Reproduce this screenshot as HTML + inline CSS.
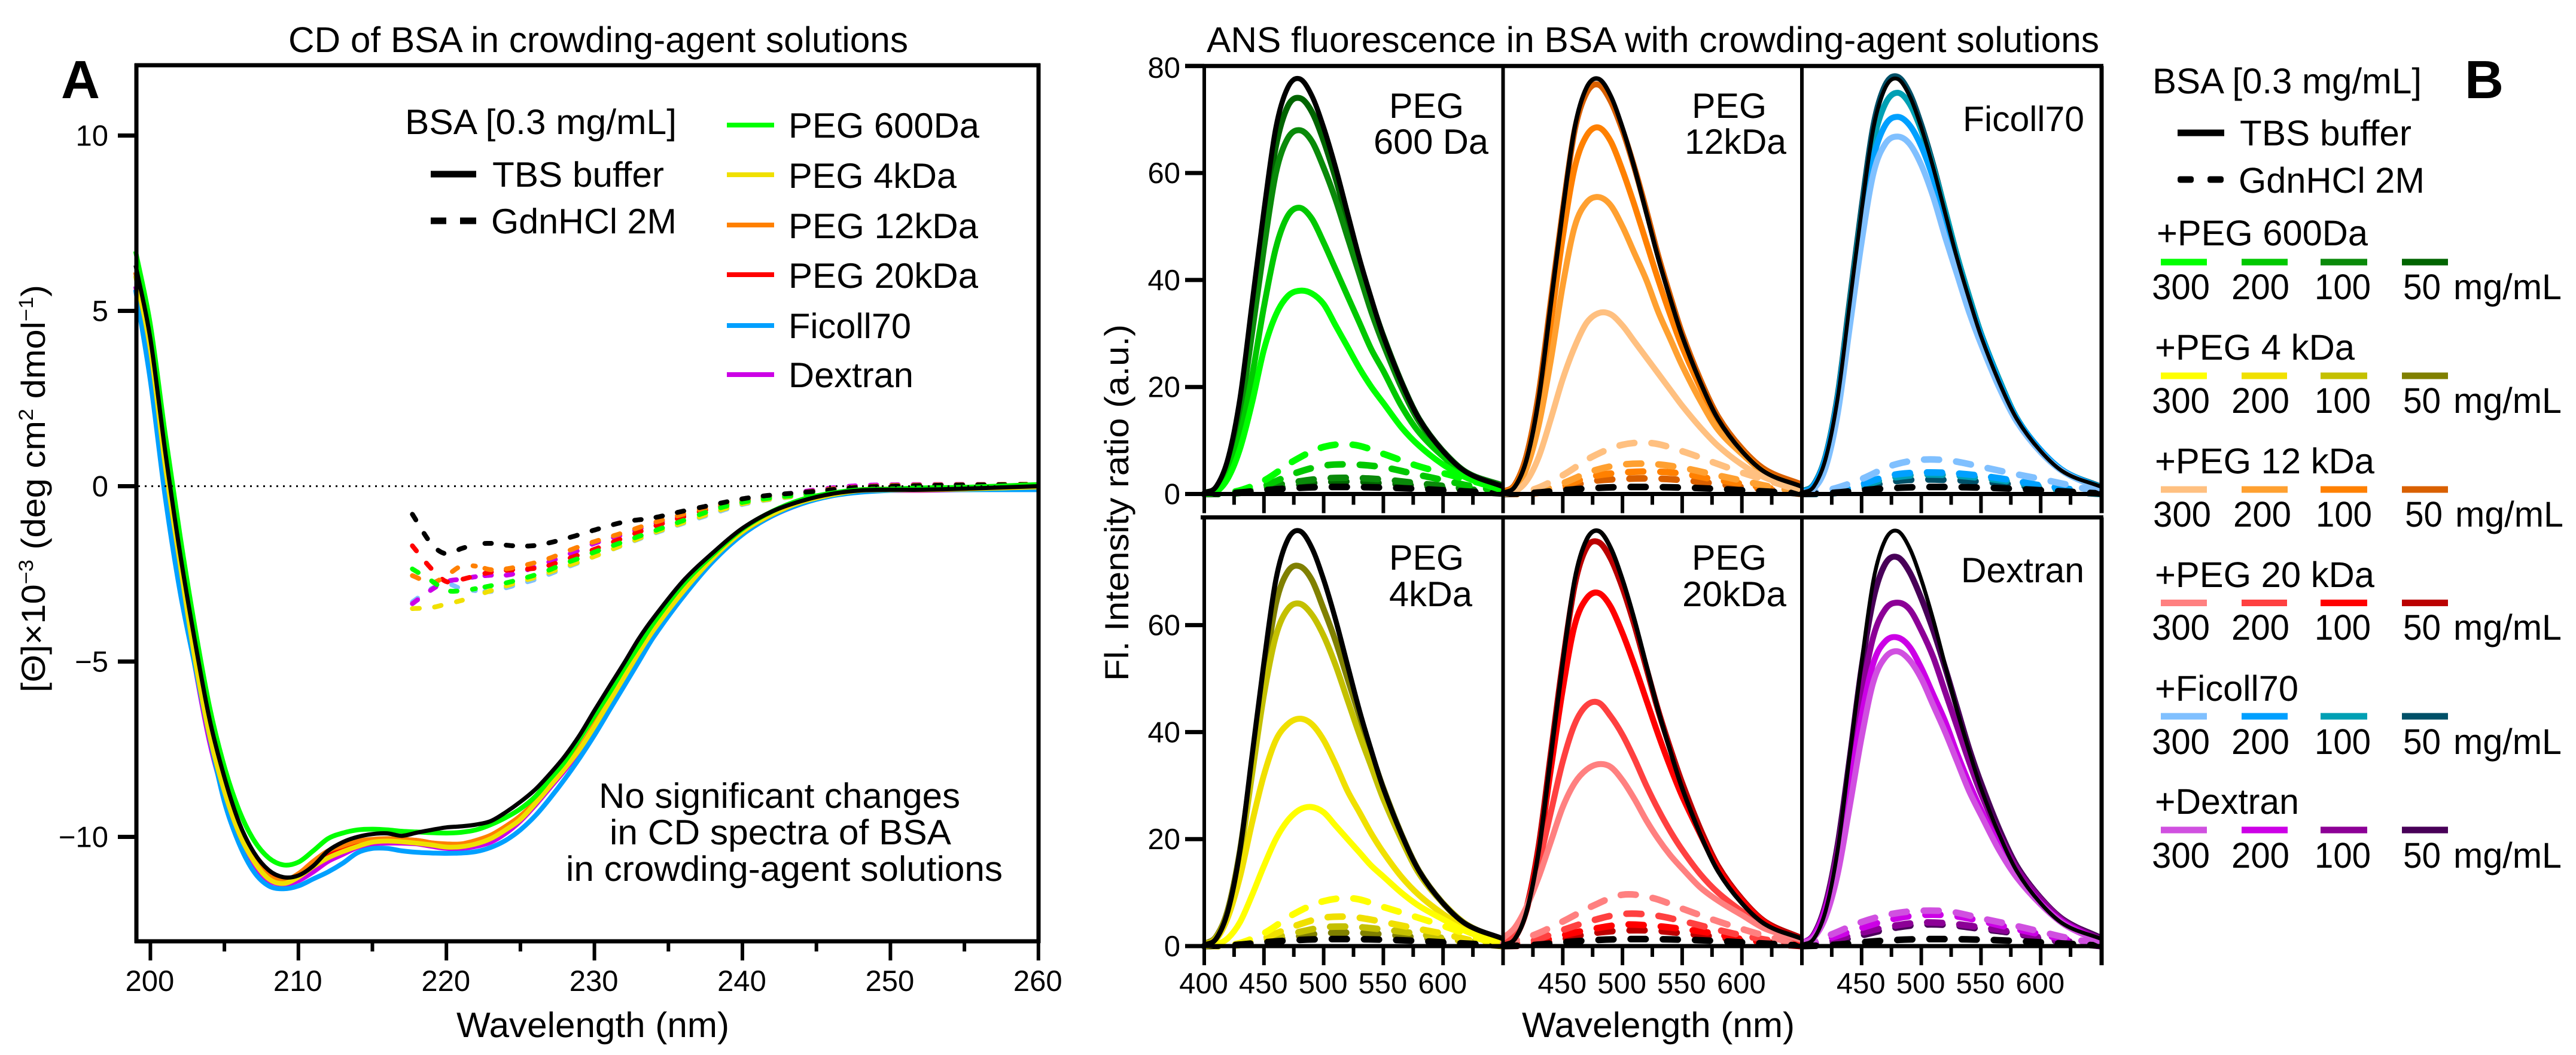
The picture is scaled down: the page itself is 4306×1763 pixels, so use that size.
<!DOCTYPE html>
<html lang="en">
<head>
<meta charset="utf-8">
<title>CD and ANS fluorescence of BSA in crowding-agent solutions</title>
<style>
html,body{margin:0;padding:0;background:#fff;}
svg{display:block;}
text{font-family:"Liberation Sans",Arial,sans-serif;fill:#000;text-rendering:geometricPrecision;}
</style>
</head>
<body>
<svg id="fig" xmlns="http://www.w3.org/2000/svg" width="4306" height="1763" viewBox="0 0 4306 1763">
<rect x="0" y="0" width="4306" height="1763" fill="#fff"/>
<g id="cd-curves"></g>
<g id="cd-axes"></g>
<g id="fluo-curves"></g>
<g id="fluo-axes"></g>

<text x="482" y="87" font-size="60" textLength="1036" lengthAdjust="spacingAndGlyphs">CD of BSA in crowding-agent solutions</text>
<text x="2017" y="87" font-size="60" textLength="1492" lengthAdjust="spacingAndGlyphs">ANS fluorescence in BSA with crowding-agent solutions</text>
<text x="102" y="164" font-size="90" font-weight="bold">A</text>
<text x="4120" y="164" font-size="90" font-weight="bold">B</text>

<text x="763" y="1733" font-size="59" textLength="456" lengthAdjust="spacingAndGlyphs">Wavelength (nm)</text>
<text x="2544" y="1733" font-size="59" textLength="456" lengthAdjust="spacingAndGlyphs">Wavelength (nm)</text>
<text transform="translate(75,1157) rotate(-90)" font-size="56" textLength="681" lengthAdjust="spacingAndGlyphs">[Θ]×10<tspan dy="-20" font-size="34">−3</tspan><tspan dy="20"> (deg cm</tspan><tspan dy="-20" font-size="34">2</tspan><tspan dy="20"> dmol</tspan><tspan dy="-20" font-size="34">−1</tspan><tspan dy="20">)</tspan></text>
<text transform="translate(1886,1138) rotate(-90)" font-size="56" textLength="596" lengthAdjust="spacingAndGlyphs">Fl. Intensity ratio (a.u.)</text>

<!-- CD legend -->
<text x="677" y="224" font-size="59" textLength="454" lengthAdjust="spacingAndGlyphs">BSA [0.3 mg/mL]</text>
<rect x="720" y="285.500" width="76" height="11" fill="#000"/>
<text x="823" y="312" font-size="59" textLength="287" lengthAdjust="spacingAndGlyphs">TBS buffer</text>
<rect x="720" y="363.500" width="26" height="11" fill="#000"/>
<rect x="769" y="363.500" width="27" height="11" fill="#000"/>
<text x="821" y="390" font-size="59" textLength="310" lengthAdjust="spacingAndGlyphs">GdnHCl 2M</text>

<rect x="1215" y="205" width="79" height="8" fill="#00ff00"/>
<text x="1318" y="230" font-size="59" textLength="319" lengthAdjust="spacingAndGlyphs">PEG 600Da</text>
<rect x="1215" y="288" width="79" height="8" fill="#f0e000"/>
<text x="1318" y="314" font-size="59" textLength="281" lengthAdjust="spacingAndGlyphs">PEG 4kDa</text>
<rect x="1215" y="372" width="79" height="8" fill="#ff8000"/>
<text x="1318" y="398" font-size="59" textLength="317" lengthAdjust="spacingAndGlyphs">PEG 12kDa</text>
<rect x="1215" y="455" width="79" height="8" fill="#ff0000"/>
<text x="1318" y="481" font-size="59" textLength="317" lengthAdjust="spacingAndGlyphs">PEG 20kDa</text>
<rect x="1215" y="540" width="79" height="8" fill="#00a0ff"/>
<text x="1318" y="565" font-size="59" textLength="205" lengthAdjust="spacingAndGlyphs">Ficoll70</text>
<rect x="1215" y="622" width="79" height="8" fill="#cc00e6"/>
<text x="1318" y="647" font-size="59" textLength="209" lengthAdjust="spacingAndGlyphs">Dextran</text>

<text x="1001" y="1350" font-size="59" textLength="604" lengthAdjust="spacingAndGlyphs">No significant changes</text>
<text x="1019" y="1411" font-size="59" textLength="571" lengthAdjust="spacingAndGlyphs">in CD spectra of BSA</text>
<text x="946" y="1472" font-size="59" textLength="730" lengthAdjust="spacingAndGlyphs">in crowding-agent solutions</text>

<!-- Fluorescence panel captions -->
<text x="2322" y="197" font-size="59" textLength="125" lengthAdjust="spacingAndGlyphs">PEG</text>
<text x="2296" y="257" font-size="59" textLength="192" lengthAdjust="spacingAndGlyphs">600 Da</text>
<text x="2828" y="197" font-size="59" textLength="125" lengthAdjust="spacingAndGlyphs">PEG</text>
<text x="2816" y="257" font-size="59" textLength="170" lengthAdjust="spacingAndGlyphs">12kDa</text>
<text x="3281" y="219" font-size="59" textLength="203" lengthAdjust="spacingAndGlyphs">Ficoll70</text>
<text x="2322" y="952" font-size="59" textLength="125" lengthAdjust="spacingAndGlyphs">PEG</text>
<text x="2322" y="1013" font-size="59" textLength="139" lengthAdjust="spacingAndGlyphs">4kDa</text>
<text x="2828" y="952" font-size="59" textLength="125" lengthAdjust="spacingAndGlyphs">PEG</text>
<text x="2812" y="1013" font-size="59" textLength="174" lengthAdjust="spacingAndGlyphs">20kDa</text>
<text x="3278" y="973" font-size="59" textLength="206" lengthAdjust="spacingAndGlyphs">Dextran</text>

<!-- Panel B legend -->
<text x="3598" y="156" font-size="60" textLength="450" lengthAdjust="spacingAndGlyphs">BSA [0.3 mg/mL]</text>
<rect x="3640" y="216.500" width="78" height="11" fill="#000"/>
<text x="3744" y="243" font-size="60" textLength="287" lengthAdjust="spacingAndGlyphs">TBS buffer</text>
<rect x="3640" y="294.500" width="27" height="11" rx="4" fill="#000"/>
<rect x="3690" y="294.500" width="27" height="11" rx="4" fill="#000"/>
<text x="3742" y="322" font-size="60" textLength="311" lengthAdjust="spacingAndGlyphs">GdnHCl 2M</text>

<g>
<text x="3605" y="410" font-size="60" textLength="353" lengthAdjust="spacingAndGlyphs">+PEG 600Da</text>
<rect x="3612" y="432.500" width="77" height="11" fill="#00ff00"/>
<rect x="3747" y="432.500" width="77" height="11" fill="#00c800"/>
<rect x="3879" y="432.500" width="78" height="11" fill="#0a8a0a"/>
<rect x="4015" y="432.500" width="77" height="11" fill="#006400"/>
<text x="3597" y="500" font-size="60" textLength="97" lengthAdjust="spacingAndGlyphs">300</text>
<text x="3730" y="500" font-size="60" textLength="97" lengthAdjust="spacingAndGlyphs">200</text>
<text x="3869" y="500" font-size="60" textLength="94" lengthAdjust="spacingAndGlyphs">100</text>
<text x="4017" y="500" font-size="60" textLength="63" lengthAdjust="spacingAndGlyphs">50</text>
<text x="4101" y="500" font-size="60" textLength="181" lengthAdjust="spacingAndGlyphs">mg/mL</text>
</g>
<g>
<text x="3602" y="601" font-size="60" textLength="334" lengthAdjust="spacingAndGlyphs">+PEG 4 kDa</text>
<rect x="3612" y="622.500" width="77" height="11" fill="#ffff00"/>
<rect x="3747" y="622.500" width="76" height="11" fill="#f0e000"/>
<rect x="3879" y="622.500" width="78" height="11" fill="#c4c000"/>
<rect x="4015" y="622.500" width="77" height="11" fill="#808000"/>
<text x="3597" y="690" font-size="60" textLength="97" lengthAdjust="spacingAndGlyphs">300</text>
<text x="3730" y="690" font-size="60" textLength="97" lengthAdjust="spacingAndGlyphs">200</text>
<text x="3869" y="690" font-size="60" textLength="94" lengthAdjust="spacingAndGlyphs">100</text>
<text x="4017" y="690" font-size="60" textLength="63" lengthAdjust="spacingAndGlyphs">50</text>
<text x="4101" y="690" font-size="60" textLength="181" lengthAdjust="spacingAndGlyphs">mg/mL</text>
</g>
<g>
<text x="3602" y="791" font-size="60" textLength="367" lengthAdjust="spacingAndGlyphs">+PEG 12 kDa</text>
<rect x="3612" y="812.500" width="77" height="11" fill="#ffc080"/>
<rect x="3747" y="812.500" width="77" height="11" fill="#ffa030"/>
<rect x="3879" y="812.500" width="78" height="11" fill="#ff8000"/>
<rect x="4015" y="812.500" width="77" height="11" fill="#d96000"/>
<text x="3599" y="880" font-size="60" textLength="97" lengthAdjust="spacingAndGlyphs">300</text>
<text x="3733" y="880" font-size="60" textLength="97" lengthAdjust="spacingAndGlyphs">200</text>
<text x="3871" y="880" font-size="60" textLength="94" lengthAdjust="spacingAndGlyphs">100</text>
<text x="4020" y="880" font-size="60" textLength="63" lengthAdjust="spacingAndGlyphs">50</text>
<text x="4104" y="880" font-size="60" textLength="181" lengthAdjust="spacingAndGlyphs">mg/mL</text>
</g>
<g>
<text x="3602" y="981" font-size="60" textLength="367" lengthAdjust="spacingAndGlyphs">+PEG 20 kDa</text>
<rect x="3612" y="1002" width="77" height="11" fill="#ff8080"/>
<rect x="3747" y="1002" width="76" height="11" fill="#ff4040"/>
<rect x="3879" y="1002" width="78" height="11" fill="#ff0000"/>
<rect x="4015" y="1002" width="77" height="11" fill="#bb0000"/>
<text x="3597" y="1069" font-size="60" textLength="97" lengthAdjust="spacingAndGlyphs">300</text>
<text x="3730" y="1069" font-size="60" textLength="97" lengthAdjust="spacingAndGlyphs">200</text>
<text x="3869" y="1069" font-size="60" textLength="94" lengthAdjust="spacingAndGlyphs">100</text>
<text x="4017" y="1069" font-size="60" textLength="63" lengthAdjust="spacingAndGlyphs">50</text>
<text x="4101" y="1069" font-size="60" textLength="181" lengthAdjust="spacingAndGlyphs">mg/mL</text>
</g>
<g>
<text x="3602" y="1171" font-size="60" textLength="240" lengthAdjust="spacingAndGlyphs">+Ficoll70</text>
<rect x="3612" y="1191.500" width="77" height="11" fill="#80c0ff"/>
<rect x="3747" y="1191.500" width="77" height="11" fill="#00a0ff"/>
<rect x="3879" y="1191.500" width="78" height="11" fill="#00a0b4"/>
<rect x="4015" y="1191.500" width="77" height="11" fill="#005068"/>
<text x="3597" y="1260" font-size="60" textLength="97" lengthAdjust="spacingAndGlyphs">300</text>
<text x="3730" y="1260" font-size="60" textLength="97" lengthAdjust="spacingAndGlyphs">200</text>
<text x="3869" y="1260" font-size="60" textLength="94" lengthAdjust="spacingAndGlyphs">100</text>
<text x="4017" y="1260" font-size="60" textLength="63" lengthAdjust="spacingAndGlyphs">50</text>
<text x="4101" y="1260" font-size="60" textLength="181" lengthAdjust="spacingAndGlyphs">mg/mL</text>
</g>
<g>
<text x="3602" y="1360" font-size="60" textLength="241" lengthAdjust="spacingAndGlyphs">+Dextran</text>
<rect x="3612" y="1381.500" width="77" height="11" fill="#d050e0"/>
<rect x="3747" y="1381.500" width="77" height="11" fill="#cc00e6"/>
<rect x="3879" y="1381.500" width="78" height="11" fill="#8c0096"/>
<rect x="4015" y="1381.500" width="77" height="11" fill="#480058"/>
<text x="3597" y="1450" font-size="60" textLength="97" lengthAdjust="spacingAndGlyphs">300</text>
<text x="3730" y="1450" font-size="60" textLength="97" lengthAdjust="spacingAndGlyphs">200</text>
<text x="3869" y="1450" font-size="60" textLength="94" lengthAdjust="spacingAndGlyphs">100</text>
<text x="4017" y="1450" font-size="60" textLength="63" lengthAdjust="spacingAndGlyphs">50</text>
<text x="4101" y="1450" font-size="60" textLength="181" lengthAdjust="spacingAndGlyphs">mg/mL</text>
</g>
</svg>

<script>
// ---------- CD chart data ----------
const cdWavelengths=[199,200,201,202,203,204,205,206,207,208,209,210,211,212,213,214,215,216,217,218,219,220,221,222,223,224,225,226,227,228,229,230,231,232,233,234,236,238,240,242,244,246,248,250,252,255,260];
const cdTbs=[6.3,4.2,1,-1.9,-4.4,-6.65,-8.3,-9.6,-10.45,-10.95,-11.15,-11.1,-10.83,-10.4,-10.15,-10,-9.92,-9.9,-9.97,-9.88,-9.8,-9.73,-9.7,-9.65,-9.55,-9.3,-9,-8.65,-8.2,-7.7,-7.1,-6.4,-5.72,-5.05,-4.35,-3.75,-2.7,-1.9,-1.2,-0.72,-0.42,-0.22,-0.12,-0.1,-0.1,-0.07,0];
const cdPeg600=[6.7,4.6,1.5,-1.4,-4,-6.3,-8,-9.25,-10.1,-10.6,-10.8,-10.72,-10.4,-10.05,-9.89,-9.8,-9.78,-9.8,-9.84,-9.86,-9.88,-9.89,-9.87,-9.8,-9.65,-9.45,-9.2,-8.85,-8.35,-7.85,-7.2,-6.55,-5.9,-5.2,-4.55,-3.9,-2.8,-1.95,-1.22,-0.72,-0.38,-0.2,-0.1,-0.08,-0.05,-0.03,0.05];
const cdPeg4=[6,3.9,0.6,-2.2,-4.9,-7.1,-8.7,-9.9,-10.7,-11.2,-11.33,-11.15,-10.85,-10.6,-10.42,-10.27,-10.15,-10.12,-10.14,-10.18,-10.23,-10.29,-10.28,-10.2,-10.05,-9.8,-9.5,-9.05,-8.55,-8.05,-7.5,-6.85,-6.15,-5.45,-4.75,-4.1,-3,-2.05,-1.3,-0.8,-0.45,-0.25,-0.12,-0.1,-0.1,-0.08,-0.02];
const cdPeg12=[6.1,4,0.7,-2.1,-4.8,-7,-8.6,-9.85,-10.65,-11.12,-11.25,-11.05,-10.7,-10.4,-10.25,-10.12,-10.07,-10.05,-10.07,-10.1,-10.17,-10.2,-10.2,-10.1,-9.95,-9.7,-9.4,-9,-8.5,-8,-7.45,-6.8,-6.1,-5.4,-4.7,-4.05,-2.95,-2,-1.28,-0.78,-0.42,-0.22,-0.1,-0.08,-0.08,-0.06,0];
const cdPeg20=[6.1,4,0.7,-2.1,-4.8,-7,-8.65,-9.9,-10.65,-11.1,-11.25,-11.1,-10.85,-10.55,-10.35,-10.2,-10.12,-10.1,-10.08,-10.1,-10.17,-10.22,-10.22,-10.12,-9.97,-9.72,-9.42,-9.02,-8.52,-8.02,-7.47,-6.82,-6.12,-5.42,-4.72,-4.07,-2.97,-2.02,-1.3,-0.8,-0.44,-0.24,-0.12,-0.1,-0.1,-0.08,0];
const cdFicoll=[5.6,3,-0.3,-3,-5.1,-7.15,-9,-10.2,-11,-11.4,-11.48,-11.4,-11.2,-11,-10.75,-10.45,-10.33,-10.33,-10.4,-10.44,-10.46,-10.47,-10.46,-10.42,-10.3,-10.1,-9.8,-9.4,-8.9,-8.35,-7.75,-7.1,-6.4,-5.7,-5,-4.3,-3.15,-2.15,-1.38,-0.85,-0.5,-0.28,-0.17,-0.12,-0.1,-0.1,-0.1];
const cdDextran=[5.7,3.5,0.3,-2.5,-5.1,-7.3,-8.85,-10.05,-10.85,-11.25,-11.35,-11.25,-11,-10.7,-10.5,-10.3,-10.2,-10.18,-10.18,-10.2,-10.27,-10.33,-10.33,-10.27,-10.15,-9.9,-9.55,-9.1,-8.6,-8.1,-7.55,-6.9,-6.2,-5.5,-4.8,-4.15,-3,-2.1,-1.35,-0.85,-0.5,-0.27,-0.13,-0.12,-0.12,-0.1,-0.05];

const cdDashWavelengths=[217.7,219,220,221,222,223,224,225,226,227,228,229,230,232,234,236,238,240,242,244,246,248,250,254,260];
const cdDashTbs=[-0.8,-1.65,-1.93,-1.78,-1.66,-1.63,-1.68,-1.71,-1.69,-1.61,-1.5,-1.38,-1.25,-1.02,-0.9,-0.71,-0.53,-0.36,-0.25,-0.18,-0.1,-0.03,0,0.03,0.05];
const cdDashPeg20=[-1.7,-2.36,-2.72,-2.66,-2.55,-2.45,-2.4,-2.37,-2.34,-2.25,-2.1,-1.95,-1.8,-1.47,-1.15,-0.88,-0.62,-0.43,-0.3,-0.2,-0.1,-0.03,0,0.03,0.05];
const cdDashPeg12=[-2.55,-2.75,-2.55,-2.28,-2.28,-2.38,-2.36,-2.28,-2.18,-2.05,-1.88,-1.72,-1.58,-1.32,-1.04,-0.8,-0.58,-0.4,-0.28,-0.18,-0.08,-0.02,0.02,0.04,0.06];
const cdDashDextran=[-3.35,-2.95,-2.72,-2.65,-2.58,-2.54,-2.54,-2.45,-2.3,-2.15,-1.98,-1.82,-1.63,-1.37,-1.08,-0.85,-0.62,-0.42,-0.28,-0.16,-0.05,0.02,0.04,0.05,0.05];
const cdDashPeg600=[-2.36,-2.7,-2.97,-2.98,-2.92,-2.84,-2.76,-2.65,-2.53,-2.38,-2.2,-2.05,-1.88,-1.58,-1.28,-0.98,-0.68,-0.46,-0.33,-0.24,-0.12,-0.05,-0.02,0.02,0.04];
const cdDashPeg4=[-3.49,-3.46,-3.36,-3.26,-3.12,-2.98,-2.85,-2.72,-2.6,-2.45,-2.3,-2.15,-2,-1.66,-1.33,-1.04,-0.75,-0.5,-0.36,-0.26,-0.14,-0.06,-0.03,0.01,0.03];
const cdDashFicoll=[-3.3,-2.92,-2.78,-2.92,-2.98,-3,-2.9,-2.78,-2.66,-2.5,-2.33,-2.17,-2,-1.67,-1.35,-1.06,-0.78,-0.52,-0.37,-0.27,-0.15,-0.07,-0.05,-0.02,0];

const cdXTickLabels=[200,210,220,230,240,250,260];
const cdXMinorTicks=[205,215,225,235,245,255];
const cdYTickLabels=[10,5,0,-5,-10];

// ---------- Fluorescence chart data ----------
const fluoWavelengths=[400,410,420,430,440,450,460,470,480,490,500,510,520,530,540,550,565,580,600,620,650];
const fluoDashWavelengths=[400,425,450,475,500,525,550,575,600,625,650];
const tbsSolid=[0.2,1.4,6.7,18,35.5,53,68.5,76,77.6,74.5,68.5,61,52.5,44,36.5,29.5,21,14,8,4,1.4];
const tbsDashed=[0,0.2,0.7,1.1,1.3,1.3,1.2,1,0.7,0.4,0.1];

const peg600Solid50=[0.2,1.2,6,16.5,33,50,65,72.5,74,71.5,66,59,51,43,36,29.5,21,14,8,4,1.6];
const peg600Solid100=[0.1,1,5.5,15,30,46,60,66.5,68,66,61,55,48,41,34,28,20,13.5,8,4,1.5];
const peg600Solid200=[0,0.6,3.5,11,22,35,46,52,53.5,51.5,47,42,37,32,27,23,16.5,11.5,7,3.5,1];
const peg600Solid300=[0,0.4,3,8.5,17,27,33.5,37,38,37.5,35.5,31.5,27.5,23.5,20,17,12.5,9,5.5,3,0.6];
const peg600Dash50=[0,0.1,0.8,1.6,2.2,2.3,2,1.6,1.1,0.6,0.2];
const peg600Dash100=[0,0.1,1.2,2.2,2.9,3,2.7,2.1,1.5,0.8,0.3];
const peg600Dash200=[0,0.2,1.5,3.8,5.3,5.5,5,3.8,2.6,1.4,0.5];
const peg600Dash300=[0,0.4,2.5,6.2,8.8,9.2,7.5,5.5,3.9,2.4,0.8];

const peg12Solid50=[0.4,1.8,7.5,19,36,53,68,75,76.5,73.5,68,61,53,44.5,37,30,21.5,14.5,8.5,4.5,1.8];
const peg12Solid100=[0.3,1.5,6.5,17,32,48,61,67,68.5,66,60.5,54,47,40,33.5,27.5,20,13.5,8,4,1.2];
const peg12Solid200=[0.1,1,5,13,25,39,50,54.5,55.5,54,50,45,40,34,29,24,17.5,12,7.5,3.8,1];
const peg12Solid300=[0,0.5,2.5,7,14,21.5,27.5,32,33.8,33.6,31.5,28.5,25.5,22.5,19.5,16.5,12.5,9,5.5,3,0.8];
const peg12Dash50=[0,0.1,1,2.4,2.8,2.9,2.6,2,1.3,0.7,0];
const peg12Dash100=[0,0.2,1.5,3.3,4,4.2,3.8,2.8,1.9,1,0.1];
const peg12Dash200=[0,0.3,2,4.3,5.5,5.6,4.9,3.7,2.5,1.3,0.3];
const peg12Dash300=[0,0.8,3.5,7,9.2,9.5,8,6,4,2.3,0.6];

const ficollSolid50=[0.5,1.8,7.2,18.5,36,53.5,69,76.5,78,75,69,61.5,53,44.5,37,30,21.5,14.2,8.2,4.2,1.4];
const ficollSolid100=[0.4,1.7,7,18,35,52,66,73,75,73,68,61,53,44.5,37,30,21.5,14.2,8.2,4.2,1.3];
const ficollSolid200=[0.3,1.6,6.8,17.5,34,50.5,63,69,70.5,69,65,59,51.5,43.5,36,29.5,21,14,8.2,4.2,1.2];
const ficollSolid300=[0.2,1,5,15,31,47,60,65.5,66.8,65.5,61.5,55.5,48,41,34,28,20,13.5,7.8,4,1];
const ficollDash50=[0,0.1,1,2.3,2.7,2.6,2.3,1.8,1,0.4,0];
const ficollDash100=[0,0.2,1.5,3,3.6,3.5,3,2.3,1.4,0.6,0];
const ficollDash200=[0,0.3,1.8,3.5,4,3.9,3.4,2.6,1.6,0.9,0.1];
const ficollDash300=[0,0.9,2.8,5.3,6.4,6.2,5.1,3.9,2.8,1.6,0.3];

const peg4Solid50=[0.4,1.8,7,18,34,50,64,70,71,68.5,63,57,50,43,36,29.5,21,14,8,4,1.2];
const peg4Solid100=[0.3,1.6,6.5,17,32,47,58,63,64,62,58,52.5,46,39.5,33.5,27.5,20,13.5,8,4,1];
const peg4Solid200=[0.2,1.3,5.5,13,23,32,38.5,41.5,42.5,41.5,38.5,34,29,25,21,17.5,13,9.5,6,3.2,0.7];
const peg4Solid300=[0,0.3,1.5,4.5,9.5,15,20,23.5,25.5,26,25,22.5,20,17.5,15,13,10,7.5,5,2.7,0.3];
const peg4Dash50=[0,0.1,0.9,1.7,2.4,2.5,2.2,1.7,1.1,0.5,0];
const peg4Dash100=[0,0.1,1.2,2.4,3.5,3.6,3.1,2.4,1.5,0.7,0];
const peg4Dash200=[0,0.2,1.5,3.7,5.3,5.4,4.5,3.4,2.3,1,0];
const peg4Dash300=[0,0.3,2.4,6,8.4,8.9,7.3,5.6,3.8,1.8,0];

const peg20Solid50=[0.4,1.8,7.5,19,36,53,67.5,74.5,75.5,72.5,67,60,52,44,37,30.5,22,15,8.8,4.5,1.5];
const peg20Solid100=[0.3,1.6,7,18,33,48,60,65,66,63.5,58.5,52.5,46,39.5,33.5,28,21,14.5,8.5,4.3,0.8];
const peg20Solid200=[1,2.5,7.5,15.5,25,34.5,41.5,45,45.5,43,39.5,35,30,25.5,21.5,18,13.5,10,6.5,3.5,1];
const peg20Solid300=[1.5,3.5,7.5,13,19.5,26,30.5,33,34,33.5,31,27.5,23.5,20,17,14.5,11,8.5,5.8,3.2,1.2];
const peg20Dash50=[0,0.2,1.3,2.4,2.9,2.9,2.4,1.8,1,0.4,0];
const peg20Dash100=[0,0.5,2,3.2,4,3.8,3.2,2.4,1.3,0.6,0];
const peg20Dash200=[0.2,1,3,4.8,6,5.8,4.7,3.3,2,1,0.1];
const peg20Dash300=[0.5,2,4.6,7.5,9.6,9,7,5,3.2,1.6,0.3];

const dextranSolid50=[0.5,2.2,8,19,35,52,65,71.5,72.7,70,65,59,52,44.5,37,30.5,22,15,9,4.8,1.6];
const dextranSolid100=[0.5,2,7.5,18,32,47,58,63,64.2,63,59,54,47.5,41,34.5,28.5,21,14.5,8.8,4.6,1.3];
const dextranSolid200=[0.5,2,7,16.5,29.5,43,53,57,57.7,56,52,47,42,36,30.5,25.5,19,13.5,8,4.3,1];
const dextranSolid300=[0.5,1.6,5.5,13.5,26,39,49.5,54,55.1,53.5,50,45,40,34.5,29,24.5,18,12.8,7.8,4,0.8];
const dextranDash50=[0,0.6,2,3.3,4,3.9,3.2,2.5,1.4,0.6,0];
const dextranDash100=[0,1,2.5,3.7,4.4,4.2,3.5,2.7,1.6,0.8,0];
const dextranDash200=[0,1.6,3.4,5,5.8,5.7,4.7,3.4,2.2,1.1,0.1];
const dextranDash300=[0,2.2,4.5,6,6.6,6.4,5.2,4,2.7,1.4,0.4];

const concentrations=[50,100,200,300];
const fluoPanelNames=['peg600','peg12','ficoll','peg4','peg20','dextran'];
const fluoSolidSeries=[
 [peg600Solid50,peg600Solid100,peg600Solid200,peg600Solid300],
 [peg12Solid50,peg12Solid100,peg12Solid200,peg12Solid300],
 [ficollSolid50,ficollSolid100,ficollSolid200,ficollSolid300],
 [peg4Solid50,peg4Solid100,peg4Solid200,peg4Solid300],
 [peg20Solid50,peg20Solid100,peg20Solid200,peg20Solid300],
 [dextranSolid50,dextranSolid100,dextranSolid200,dextranSolid300]
];
const fluoDashSeries=[
 [peg600Dash50,peg600Dash100,peg600Dash200,peg600Dash300],
 [peg12Dash50,peg12Dash100,peg12Dash200,peg12Dash300],
 [ficollDash50,ficollDash100,ficollDash200,ficollDash300],
 [peg4Dash50,peg4Dash100,peg4Dash200,peg4Dash300],
 [peg20Dash50,peg20Dash100,peg20Dash200,peg20Dash300],
 [dextranDash50,dextranDash100,dextranDash200,dextranDash300]
];
const fluoColors=[
 ['#006400','#0a8a0a','#00c800','#00ff00'],
 ['#d96000','#ff8000','#ffa030','#ffc080'],
 ['#005068','#00a0b4','#00a0ff','#80c0ff'],
 ['#808000','#c4c000','#f0e000','#ffff00'],
 ['#bb0000','#ff0000','#ff4040','#ff8080'],
 ['#480058','#8c0096','#cc00e6','#d050e0']
];
const fluoXTickLabels=[[400,450,500,550,600],[450,500,550,600],[450,500,550,600]];
const fluoXMajorTicks=[400,450,500,550,600];
const fluoXMinorTicks=[425,475,525,575,625];
const fluoYTicksTop=[80,60,40,20,0];
const fluoYTicksBottom=[60,40,20,0];

// ---------- Axis functions ----------
function cdX(w){return 251.4+(w-200)*24.74;}
function cdY(v){return 812.5-v*58.6;}
function panelLeft(col){return 2013+col*499.5;}
function rowBase(row){return row===0?825.5:1581;}
function fluoX(col,w){return panelLeft(col)+(w-400)*1.996;}
function fluoY(row,v){return rowBase(row)-v*8.94;}

const NS='http://www.w3.org/2000/svg';
function slopes(px,py){
  const n=px.length,m=[];
  for(let i=0;i<n;i++){
    const a=Math.max(0,i-1),b=Math.min(n-1,i+1);
    m.push((py[b]-py[a])/(px[b]-px[a]));
  }
  return m;
}
function smoothPath(xs,ys,mapX,mapY){
  const px=xs.map(mapX),py=ys.map(mapY),n=px.length,m=slopes(px,py);
  let d='M'+px[0].toFixed(1)+' '+py[0].toFixed(1);
  for(let i=0;i<n-1;i++){
    const dx=(px[i+1]-px[i])/3;
    d+='C'+(px[i]+dx).toFixed(1)+' '+(py[i]+m[i]*dx).toFixed(1)+' '+(px[i+1]-dx).toFixed(1)+' '+(py[i+1]-m[i+1]*dx).toFixed(1)+' '+px[i+1].toFixed(1)+' '+py[i+1].toFixed(1);
  }
  return d;
}
// CD dashes: arc-length dashes over the steep start, then columns aligned along x.
function cdDashedPath(xs,ys){
  const px=xs.map(cdX),py=ys.map(cdY),m=slopes(px,py),cut=cdX(222);
  let d='',on=false,arc=0,lx=px[0],ly=py[0];
  for(let i=0;i<px.length-1;i++){
    const h=px[i+1]-px[i],steps=Math.ceil(h);
    for(let k=0;k<=steps;k++){
      const t=k/steps,t2=t*t,t3=t2*t;
      const x=px[i]+h*t;
      const y=(2*t3-3*t2+1)*py[i]+(t3-2*t2+t)*h*m[i]+(-2*t3+3*t2)*py[i+1]+(t3-t2)*h*m[i+1];
      arc+=Math.hypot(x-lx,y-ly);
      lx=x;ly=y;
      const phase=x<cut?arc%37:(((x-1132)%35.8)+35.8)%35.8;
      const drawing=phase<12;
      if(drawing){
        d+=(on?'L':'M')+x.toFixed(1)+' '+y.toFixed(1);
      }
      on=drawing;
    }
  }
  return d;
}
function addCurve(parent,name,d,color,width,dash,offset,caps){
  const el=document.createElementNS(NS,'path');
  
  
  el.setAttribute('d',d);
  el.setAttribute('fill','none');
  el.setAttribute('stroke',color);
  el.setAttribute('stroke-width',width);
  el.setAttribute('stroke-linejoin','round');
  if(dash){
    el.setAttribute('stroke-dasharray',dash);
    el.setAttribute('stroke-dashoffset',offset||0);
  }
  if(dash||caps){
    el.setAttribute('stroke-linecap','round');
  }
  parent.appendChild(el);
}
function addLine(parent,name,x1,y1,x2,y2,width,dash){
  const el=document.createElementNS(NS,'line');
  
  
  el.setAttribute('x1',x1);
  el.setAttribute('y1',y1);
  el.setAttribute('x2',x2);
  el.setAttribute('y2',y2);
  el.setAttribute('stroke','#000');
  el.setAttribute('stroke-width',width);
  if(dash){
    el.setAttribute('stroke-dasharray',dash);
  }
  parent.appendChild(el);
}
function addLabel(parent,name,x,y,str,anchor){
  const el=document.createElementNS(NS,'text');
  
  
  el.setAttribute('x',x);
  el.setAttribute('y',y);
  el.setAttribute('font-size','49');
  el.setAttribute('text-anchor',anchor);
  el.textContent=str;
  parent.appendChild(el);
}

// ---------- CD chart ----------
const cdCurves=document.getElementById('cd-curves');
const cdAxes=document.getElementById('cd-axes');
const cdDashDraw=[['ficoll',cdDashFicoll,'#80c0ff'],['dextran',cdDashDextran,'#cc00e6'],['peg4',cdDashPeg4,'#f0e000'],['peg20',cdDashPeg20,'#ff0000'],['peg12',cdDashPeg12,'#ff8000'],['peg600',cdDashPeg600,'#00ff00'],['tbs',cdDashTbs,'#000000']];
const cdSolidDraw=[['dextran',cdDextran,'#cc00e6',8],['ficoll',cdFicoll,'#00a0ff',8],['peg20',cdPeg20,'#ff0000',8],['peg12',cdPeg12,'#ff8000',8],['peg4',cdPeg4,'#f0e000',8],['peg600',cdPeg600,'#00ff00',8],['tbs',cdTbs,'#000000',7]];
cdDashDraw.forEach(function(s){
  addCurve(cdCurves,'cd-dashed-'+s[0],cdDashedPath(cdDashWavelengths,s[1]),s[2],8,null,0,true);
});
cdSolidDraw.forEach(function(s){
  addCurve(cdCurves,'cd-solid-'+s[0],smoothPath(cdWavelengths,s[1],cdX,cdY),s[2],s[3]);
});
addLine(cdAxes,'cd-zero-line',231,cdY(0),1733,cdY(0),3,'3 8');
addLine(cdAxes,'cd-left-spine',228,106,228,1576,7);
addLine(cdAxes,'cd-right-spine',1736,106,1736,1576,7);
addLine(cdAxes,'cd-top-spine',225,109,1739,109,7);
addLine(cdAxes,'cd-bottom-spine',225,1573,1739,1573,7);
cdXTickLabels.forEach(function(w){
  addLine(cdAxes,'cd-x-tick-'+w,cdX(w),1573,cdX(w),1605,6);
  addLabel(cdAxes,'cd-x-label-'+w,cdX(w)-1,1656,String(w),'middle');
});
cdXMinorTicks.forEach(function(w){
  addLine(cdAxes,'cd-x-minor-tick-'+w,cdX(w),1573,cdX(w),1590,6);
});
cdYTickLabels.forEach(function(v){
  addLine(cdAxes,'cd-y-tick-'+v,197,cdY(v),228,cdY(v),7);
  addLabel(cdAxes,'cd-y-label-'+v,181,cdY(v)+17,String(v).replace('-','\u2212'),'end');
});

// ---------- Fluorescence chart ----------
const fluoCurves=document.getElementById('fluo-curves');
const fluoAxes=document.getElementById('fluo-axes');
fluoPanelNames.forEach(function(name,idx){
  const col=idx%3,row=Math.floor(idx/3);
  const blackWidth=col===0?8.5:col===1?7.5:6.5;
  const mapX=function(w){return fluoX(col,w);};
  const mapY=function(v){return fluoY(row,v);};
  fluoDashSeries[idx].forEach(function(vals,k){
    addCurve(fluoCurves,name+'-dashed-'+concentrations[k],smoothPath(fluoDashWavelengths,vals,mapX,mapY),fluoColors[idx][k],11,'25 28.8',1.5);
  });
  addCurve(fluoCurves,name+'-dashed-tbs',smoothPath(fluoDashWavelengths,tbsDashed,mapX,mapY),'#000000',11,'25 28.8',1.5);
  fluoSolidSeries[idx].forEach(function(vals,k){
    addCurve(fluoCurves,name+'-solid-'+concentrations[k],smoothPath(fluoWavelengths,vals,mapX,mapY),fluoColors[idx][k],10);
  });
  addCurve(fluoCurves,name+'-solid-tbs',smoothPath(fluoWavelengths,tbsSolid,mapX,mapY),'#000000',blackWidth);
});
[0,1].forEach(function(row){
  const top=row===0?fluoY(0,80):864.6;
  const left=row===0?1981:2007;
  addLine(fluoAxes,'row-'+row+'-top-spine',left,top,3516,top,7);
  addLine(fluoAxes,'row-'+row+'-bottom-axis',1981,rowBase(row),3516,rowBase(row),7);
  const end=rowBase(row)+32;
  [0,1,2].forEach(function(col){
    addLine(fluoAxes,'row-'+row+'-panel-'+col+'-left-spine',panelLeft(col),top,panelLeft(col),end,6);
    fluoXMajorTicks.slice(1).forEach(function(w){
      addLine(fluoAxes,'row-'+row+'-panel-'+col+'-tick-'+w,fluoX(col,w),rowBase(row),fluoX(col,w),end,6);
    });
    fluoXMinorTicks.forEach(function(w){
      addLine(fluoAxes,'row-'+row+'-panel-'+col+'-minor-tick-'+w,fluoX(col,w),rowBase(row),fluoX(col,w),rowBase(row)+18,6);
    });
  });
  addLine(fluoAxes,'row-'+row+'-right-spine',3513,top,3513,end,7);
  (row===0?fluoYTicksTop:fluoYTicksBottom).forEach(function(v){
    addLine(fluoAxes,'row-'+row+'-y-tick-'+v,1981,fluoY(row,v),panelLeft(0),fluoY(row,v),7);
    addLabel(fluoAxes,'row-'+row+'-y-label-'+v,1973,Math.max(fluoY(row,v)+17,130),String(v),'end');
  });
});
fluoXTickLabels.forEach(function(labels,col){
  labels.forEach(function(w){
    addLabel(fluoAxes,'panel-'+col+'-x-label-'+w,fluoX(col,w)-1,1660,String(w),'middle');
  });
});
</script>
</body>
</html>
